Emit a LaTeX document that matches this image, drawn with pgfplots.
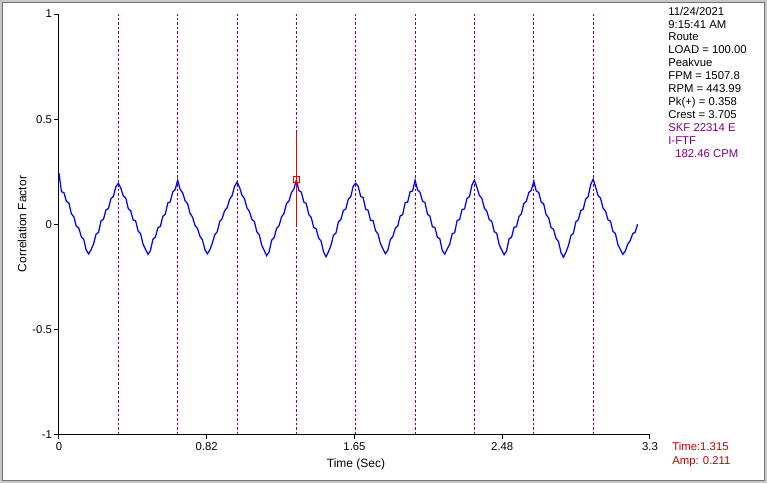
\documentclass[border=0pt]{standalone}
\usepackage{fontspec}
\setmainfont{Liberation Sans}
\usepackage{pgfplots}
\pgfplotsset{compat=1.18}
\definecolor{sigblue}{RGB}{0,0,255}
\definecolor{mkpurple}{RGB}{128,0,128}
\definecolor{curred}{RGB}{235,0,0}
\definecolor{txtred}{RGB}{200,0,0}
\begin{document}
\begin{tikzpicture}
\begin{scope}[x=0.6pt,y=0.6pt]
\path[use as bounding box] (0,0) rectangle (767,483);
\fill[black!22] (0,0) rectangle (767,483);
\fill[white] (3,3) rectangle (764,481);
\draw[black!55, line width=0.6pt] (2.7,2.7) rectangle (764.3,480.7);
\end{scope}
\begin{axis}[
  at={(35.4pt,29.1pt)}, anchor=south west, scale only axis,
  width=354.6pt, height=252.3pt,
  xmin=0, xmax=3.3, ymin=-1, ymax=1,
  axis x line*=bottom, axis y line*=left,
  axis line style={-, line width=0.6pt, black},
  xtick={0,0.825,1.65,2.475,3.3}, xticklabels={0,0.82,1.65,2.48,3.3},
  ytick={-1,-0.5,0,0.5,1}, yticklabels={-1,-0.5,0,0.5,1},
  tick align=outside, major tick length=3pt,
  tick style={black, line width=0.6pt},
  tick label style={font=\fontsize{6.8}{8}\selectfont},
  yticklabel style={inner sep=1pt},
  xticklabel style={inner sep=1.5pt},
  clip=false,
]
\pgfplotsinvokeforeach{0.3314,0.6628,0.9942,1.3256,1.6570,1.9884,2.3198,2.6512,2.9826}{
  \addplot[mkpurple, line width=0.6pt, dash pattern=on 1.5pt off 1.2pt] coordinates {(#1,-1) (#1,1)};
}
\addplot[sigblue, line width=0.75pt] table {
t y
0 0.243
0.0138 0.155
0.0276 0.150
0.0414 0.109
0.0552 0.101
0.0690 0.050
0.0828 0.036
0.0966 -0.010
0.1104 -0.017
0.1242 -0.059
0.1380 -0.071
0.1518 -0.123
0.1656 -0.141
0.1794 -0.120
0.1932 -0.093
0.2070 -0.047
0.2208 -0.039
0.2346 0.016
0.2484 0.024
0.2622 0.068
0.2760 0.075
0.2898 0.121
0.3036 0.133
0.3174 0.178
0.3314 0.195
0.3452 0.172
0.3590 0.135
0.3728 0.125
0.3866 0.075
0.4004 0.064
0.4142 0.020
0.4280 0.016
0.4418 -0.033
0.4556 -0.045
0.4694 -0.095
0.4832 -0.119
0.4970 -0.143
0.5108 -0.125
0.5246 -0.071
0.5384 -0.061
0.5522 -0.017
0.5660 -0.010
0.5798 0.038
0.5936 0.048
0.6074 0.101
0.6212 0.107
0.6350 0.153
0.6488 0.165
0.6628 0.210
0.6766 0.165
0.6904 0.150
0.7042 0.112
0.7180 0.098
0.7318 0.052
0.7456 0.034
0.7594 -0.006
0.7732 -0.020
0.7870 -0.057
0.8008 -0.074
0.8146 -0.120
0.8284 -0.140
0.8422 -0.122
0.8560 -0.090
0.8698 -0.050
0.8836 -0.036
0.8974 0.013
0.9112 0.027
0.9250 0.065
0.9388 0.078
0.9526 0.118
0.9664 0.136
0.9802 0.180
0.9942 0.200
1.0080 0.176
1.0218 0.138
1.0356 0.122
1.0494 0.078
1.0632 0.061
1.0770 0.023
1.0908 0.013
1.1046 -0.036
1.1184 -0.050
1.1322 -0.100
1.1460 -0.125
1.1598 -0.150
1.1736 -0.130
1.1874 -0.076
1.2012 -0.064
1.2150 -0.020
1.2288 -0.007
1.2426 0.035
1.2564 0.051
1.2702 0.098
1.2840 0.110
1.2978 0.150
1.3116 0.168
1.3256 0.211
1.3394 0.160
1.3532 0.153
1.3670 0.106
1.3808 0.098
1.3946 0.047
1.4084 0.032
1.4222 -0.015
1.4360 -0.022
1.4498 -0.066
1.4636 -0.080
1.4774 -0.132
1.4912 -0.155
1.5050 -0.130
1.5188 -0.100
1.5326 -0.052
1.5464 -0.042
1.5602 0.012
1.5740 0.022
1.5878 0.066
1.6016 0.073
1.6154 0.119
1.6292 0.131
1.6430 0.182
1.6570 0.195
1.6708 0.180
1.6846 0.132
1.6984 0.127
1.7122 0.072
1.7260 0.066
1.7398 0.018
1.7536 0.018
1.7674 -0.030
1.7812 -0.047
1.7950 -0.092
1.8088 -0.117
1.8226 -0.140
1.8364 -0.123
1.8502 -0.073
1.8640 -0.058
1.8778 -0.019
1.8916 -0.008
1.9054 0.040
1.9192 0.046
1.9330 0.103
1.9468 0.105
1.9606 0.155
1.9744 0.158
1.9884 0.210
2.0022 0.163
2.0160 0.152
2.0298 0.110
2.0436 0.103
2.0574 0.048
2.0712 0.038
2.0850 -0.012
2.0988 -0.015
2.1126 -0.061
2.1264 -0.069
2.1402 -0.125
2.1540 -0.142
2.1678 -0.118
2.1816 -0.095
2.1954 -0.045
2.2092 -0.041
2.2230 0.018
2.2368 0.022
2.2506 0.070
2.2644 0.073
2.2782 0.123
2.2920 0.131
2.3058 0.186
2.3198 0.210
2.3336 0.175
2.3474 0.137
2.3612 0.123
2.3750 0.077
2.3888 0.062
2.4026 0.022
2.4164 0.014
2.4302 -0.035
2.4440 -0.043
2.4578 -0.097
2.4716 -0.121
2.4854 -0.145
2.4992 -0.127
2.5130 -0.069
2.5268 -0.063
2.5406 -0.015
2.5544 -0.012
2.5682 0.036
2.5820 0.050
2.5958 0.099
2.6096 0.109
2.6234 0.151
2.6372 0.162
2.6512 0.205
2.6650 0.158
2.6788 0.151
2.6926 0.105
2.7064 0.097
2.7202 0.045
2.7340 0.031
2.7478 -0.016
2.7616 -0.024
2.7754 -0.068
2.7892 -0.082
2.8030 -0.135
2.8168 -0.157
2.8306 -0.133
2.8444 -0.102
2.8582 -0.054
2.8720 -0.044
2.8858 0.011
2.8996 0.021
2.9134 0.065
2.9272 0.072
2.9410 0.120
2.9548 0.132
2.9686 0.188
2.9826 0.214
2.9964 0.177
3.0102 0.136
3.0240 0.124
3.0378 0.076
3.0516 0.063
3.0654 0.021
3.0792 0.015
3.0930 -0.034
3.1068 -0.044
3.1206 -0.096
3.1344 -0.120
3.1482 -0.143
3.1620 -0.128
3.1758 -0.095
3.1896 -0.078
3.2034 -0.045
3.2172 -0.038
3.2310 0.000
};
\addplot[curred, line width=0.75pt] coordinates {(1.3256,-0.01) (1.3256,0.435)};
\addplot[only marks, mark=square, mark size=1.8pt, mark options={curred, line width=0.6pt}] coordinates {(1.3256,0.211)};
\end{axis}
\begin{scope}[x=0.6pt,y=0.6pt]
\node[rotate=90, font=\fontsize{7.2}{8}\selectfont] at (22,259) {Correlation Factor};
\node[font=\fontsize{7.2}{8}\selectfont] at (356,19) {Time (Sec)};
\begin{scope}[every node/.style={anchor=base west, inner sep=0pt, font=\fontsize{6.8}{8}\selectfont}]
\node at (668,467.8) {11/24/2021};
\node at (668,454.9) {9:15:41 AM};
\node at (668,442.0) {Route};
\node at (668,429.1) {LOAD = 100.00};
\node at (668,416.2) {Peakvue};
\node at (668,403.3) {FPM = 1507.8};
\node at (668,390.4) {RPM = 443.99};
\node at (668,377.5) {Pk(+) = 0.358};
\node at (668,364.6) {Crest = 3.705};
\node[text=mkpurple] at (668,351.7) {SKF 22314 E};
\node[text=mkpurple] at (668,338.8) {I-FTF};
\node[text=mkpurple] at (675,325.9) {182.46 CPM};
\node[text=txtred] at (672,32) {Time:1.315};
\node[text=txtred] at (672,18) {Amp: 0.211};
\end{scope}
\end{scope}
\end{tikzpicture}
\end{document}
